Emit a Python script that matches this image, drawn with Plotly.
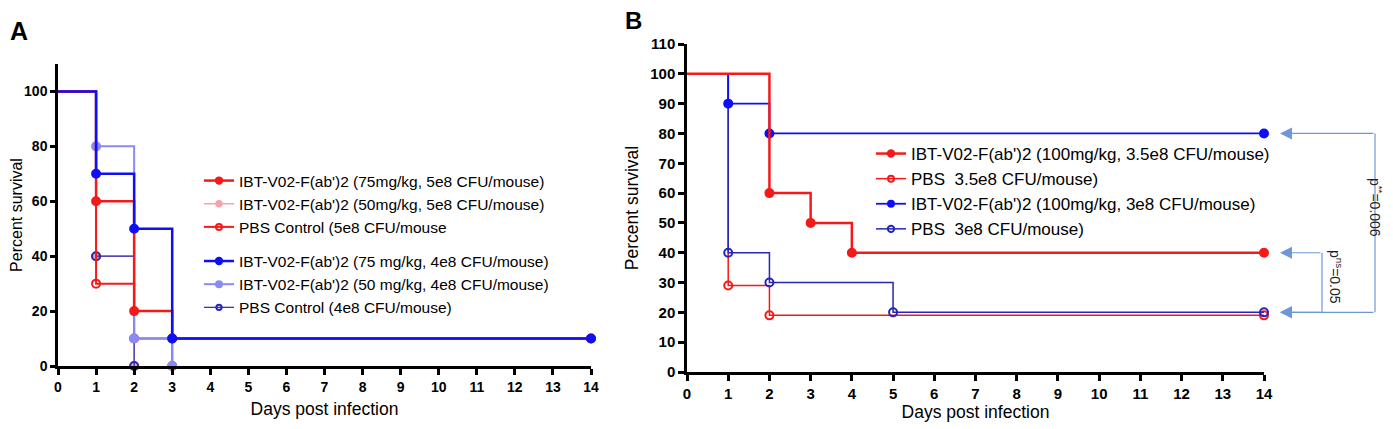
import plotly.graph_objects as go

# ============================================================================
# DATA
# ============================================================================

# Panel A
a_days_ibt75_5e8 = [0, 1, 2, 3, 14]
a_surv_ibt75_5e8 = [100, 60, 20, 10, 10]
a_days_ibt50_5e8 = [0, 1, 2]
a_surv_ibt50_5e8 = [100, 40, 0]
a_days_pbs_5e8 = [0, 1, 2, 3]
a_surv_pbs_5e8 = [100, 30, 10, 0]
a_days_ibt75_4e8 = [0, 1, 2, 3, 14]
a_surv_ibt75_4e8 = [100, 70, 50, 10, 10]
a_days_ibt50_4e8 = [0, 1, 2, 3]
a_surv_ibt50_4e8 = [100, 80, 10, 0]
a_days_pbs_4e8 = [0, 1, 2]
a_surv_pbs_4e8 = [100, 40, 0]

# Panel B
b_days_ibt100_35e8 = [0, 2, 3, 4, 14]
b_surv_ibt100_35e8 = [100, 60, 50, 40, 40]
b_days_pbs_35e8 = [0, 1, 2, 14]
b_surv_pbs_35e8 = [100, 29, 19, 19]
b_days_ibt100_3e8 = [0, 1, 2, 14]
b_surv_ibt100_3e8 = [100, 90, 80, 80]
b_days_pbs_3e8 = [0, 1, 2, 5, 14]
b_surv_pbs_3e8 = [100, 40, 30, 20, 20]

a_day_ticks = list(range(0, 15))
a_surv_ticks = [0, 20, 40, 60, 80, 100]
b_surv_ticks = list(range(0, 111, 10))

# p-value brackets in panel B: (upper group level, lower group level, label)
b_pvals = [
    (80, 20, "p<sup>**</sup>=0.006"),
    (40, 20, "p<sup>ns</sup>=0.05"),
]

RED = "#F41A1A"
PINK = "#F4A3AB"
BLUE = "#0F0FF5"
LBLUE = "#8A8AF7"
DBLUE = "#2626B8"
ARROW = "#6F96D8"
FONT = "Liberation Sans, Arial, sans-serif"

W, H = 1393, 429
OFF = 8  # page body margin of the html page


def X(px):
    return (px - OFF) / W


def Y(py):
    return 1 - (py - OFF) / H


A_X = (X(58), X(591))
A_Y = (Y(366), Y(64))
B_X = (X(687), X(1264))
B_Y = (Y(372), Y(44))


def sizes(n, first_hidden=True, s=8):
    return [0 if (i == 0 and first_hidden) else s for i in range(n)]


fig = go.Figure()


def add_curve(x, y, name, color, width, open_marker, xaxis, yaxis, legend, group, rank):
    fig.add_trace(go.Scatter(
        x=x, y=y, name=name, mode="lines+markers",
        line=dict(color=color, width=width, shape="hv"),
        marker=dict(
            size=sizes(len(x)),
            symbol="circle-open" if open_marker else "circle",
            color=color, opacity=1,
            line=dict(width=2, color=color),
        ),
        xaxis=xaxis, yaxis=yaxis, legend=legend, legendgroup=group,
        legendrank=rank, cliponaxis=False,
    ))


# Panel A
add_curve(a_days_ibt50_5e8, a_surv_ibt50_5e8,
          "IBT-V02-F(ab')2 (50mg/kg, 5e8 CFU/mouse)", PINK, 1.5, False,
          "x", "y", "legend", "g1", 2)
add_curve(a_days_pbs_4e8, a_surv_pbs_4e8,
          "PBS Control (4e8 CFU/mouse)", DBLUE, 1.2, True,
          "x", "y", "legend", "g2", 6)
add_curve(a_days_pbs_5e8, a_surv_pbs_5e8,
          "PBS Control (5e8 CFU/mouse", RED, 2, True,
          "x", "y", "legend", "g1", 3)
add_curve(a_days_ibt50_4e8, a_surv_ibt50_4e8,
          "IBT-V02-F(ab')2 (50 mg/kg, 4e8 CFU/mouse)", LBLUE, 2, False,
          "x", "y", "legend", "g2", 5)
add_curve(a_days_ibt75_5e8, a_surv_ibt75_5e8,
          "IBT-V02-F(ab')2 (75mg/kg, 5e8 CFU/mouse)", RED, 2.5, False,
          "x", "y", "legend", "g1", 1)
add_curve(a_days_ibt75_4e8, a_surv_ibt75_4e8,
          "IBT-V02-F(ab')2 (75 mg/kg, 4e8 CFU/mouse)", BLUE, 2.5, False,
          "x", "y", "legend", "g2", 4)

# Panel B
add_curve(b_days_pbs_35e8, b_surv_pbs_35e8,
          "PBS  3.5e8 CFU/mouse)", RED, 1.5, True,
          "x2", "y2", "legend2", "h", 2)
add_curve(b_days_pbs_3e8, b_surv_pbs_3e8,
          "PBS  3e8 CFU/mouse)", DBLUE, 1.5, True,
          "x2", "y2", "legend2", "h", 4)
add_curve(b_days_ibt100_3e8, b_surv_ibt100_3e8,
          "IBT-V02-F(ab')2 (100mg/kg, 3e8 CFU/mouse)", BLUE, 1.8, False,
          "x2", "y2", "legend2", "h", 3)
add_curve(b_days_ibt100_35e8, b_surv_ibt100_35e8,
          "IBT-V02-F(ab')2 (100mg/kg, 3.5e8 CFU/mouse)", RED, 2.5, False,
          "x2", "y2", "legend2", "h", 1)

axis_common = dict(
    showline=True, linecolor="black", showgrid=False, zeroline=False,
    ticks="outside", tickcolor="black", automargin=False,
    linewidth=2.5, tickwidth=2.5, ticklen=6,
)


def tfont(size):
    return dict(family=FONT, size=size, color="black", weight="bold")


def lfont(size):
    return dict(family=FONT, size=size, color="black")


fig.update_layout(
    width=W, height=H,
    margin=dict(l=0, r=0, t=0, b=0, autoexpand=False),
    paper_bgcolor="white", plot_bgcolor="white",
    font=dict(family=FONT, color="black"),
    xaxis=dict(axis_common, domain=A_X, range=[0, 14], tickvals=a_day_ticks,
               anchor="y", tickfont=tfont(14),
               title=dict(text="Days post infection", standoff=10, font=lfont(17.5))),
    yaxis=dict(axis_common, domain=A_Y, range=[0, 110], tickvals=a_surv_ticks,
               anchor="x", ticklen=5, tickfont=tfont(14),
               title=dict(text="Percent survival", standoff=6, font=lfont(16))),
    xaxis2=dict(axis_common, domain=B_X, range=[0, 14], tickvals=a_day_ticks,
                anchor="y2", tickfont=tfont(15),
                title=dict(text="Days post infection", standoff=5, font=lfont(17.5))),
    yaxis2=dict(axis_common, domain=B_Y, range=[0, 110], tickvals=b_surv_ticks,
                anchor="x2", tickfont=tfont(15),
                title=dict(text="Percent survival", standoff=8, font=lfont(17.5))),
    legend=dict(
        x=X(199), y=Y(164), xanchor="left", yanchor="top",
        traceorder="grouped", tracegroupgap=11, itemwidth=30,
        font=lfont(15.5), bgcolor="rgba(0,0,0,0)",
    ),
    legend2=dict(
        x=X(871), y=Y(136), xanchor="left", yanchor="top",
        itemwidth=30, font=lfont(17), bgcolor="rgba(0,0,0,0)",
    ),
)


# p-value brackets with arrows (panel B)
def y_paper(v):
    return B_Y[0] + v / 110 * (B_Y[1] - B_Y[0])


head_px = 1280
bracket_px = [1375, 1322]
label_px = [(1387, 207), (1347, 277)]
for (hi, lo, label), bx, (lx, ly) in zip(b_pvals, bracket_px, label_px):
    for v in (hi, lo):
        fig.add_annotation(
            x=X(head_px), y=y_paper(v), xref="paper", yref="paper",
            ax=bx - head_px, ay=0,
            text="", showarrow=True, arrowhead=2, arrowsize=2,
            arrowwidth=1.2, arrowcolor=ARROW, standoff=0,
        )
    fig.add_shape(type="line", xref="paper", yref="paper",
                  x0=X(bx), x1=X(bx), y0=y_paper(hi), y1=y_paper(lo),
                  line=dict(color=ARROW, width=1.2))
    fig.add_annotation(
        x=X(lx), y=Y(ly), xref="paper", yref="paper",
        text=label, showarrow=False, textangle=90,
        font=dict(family=FONT, size=14, color="#222222"),
    )

# panel letters
fig.add_annotation(x=0, y=Y(31), xref="paper", yref="paper", text="<b>A</b>",
                   showarrow=False, xanchor="left", yanchor="middle",
                   font=dict(family=FONT, size=25, color="black"))
fig.add_annotation(x=X(624), y=Y(21), xref="paper", yref="paper", text="<b>B</b>",
                   showarrow=False, xanchor="left", yanchor="middle",
                   borderpad=0, font=dict(family=FONT, size=24, color="black"))

fig.write_html("out.html")
